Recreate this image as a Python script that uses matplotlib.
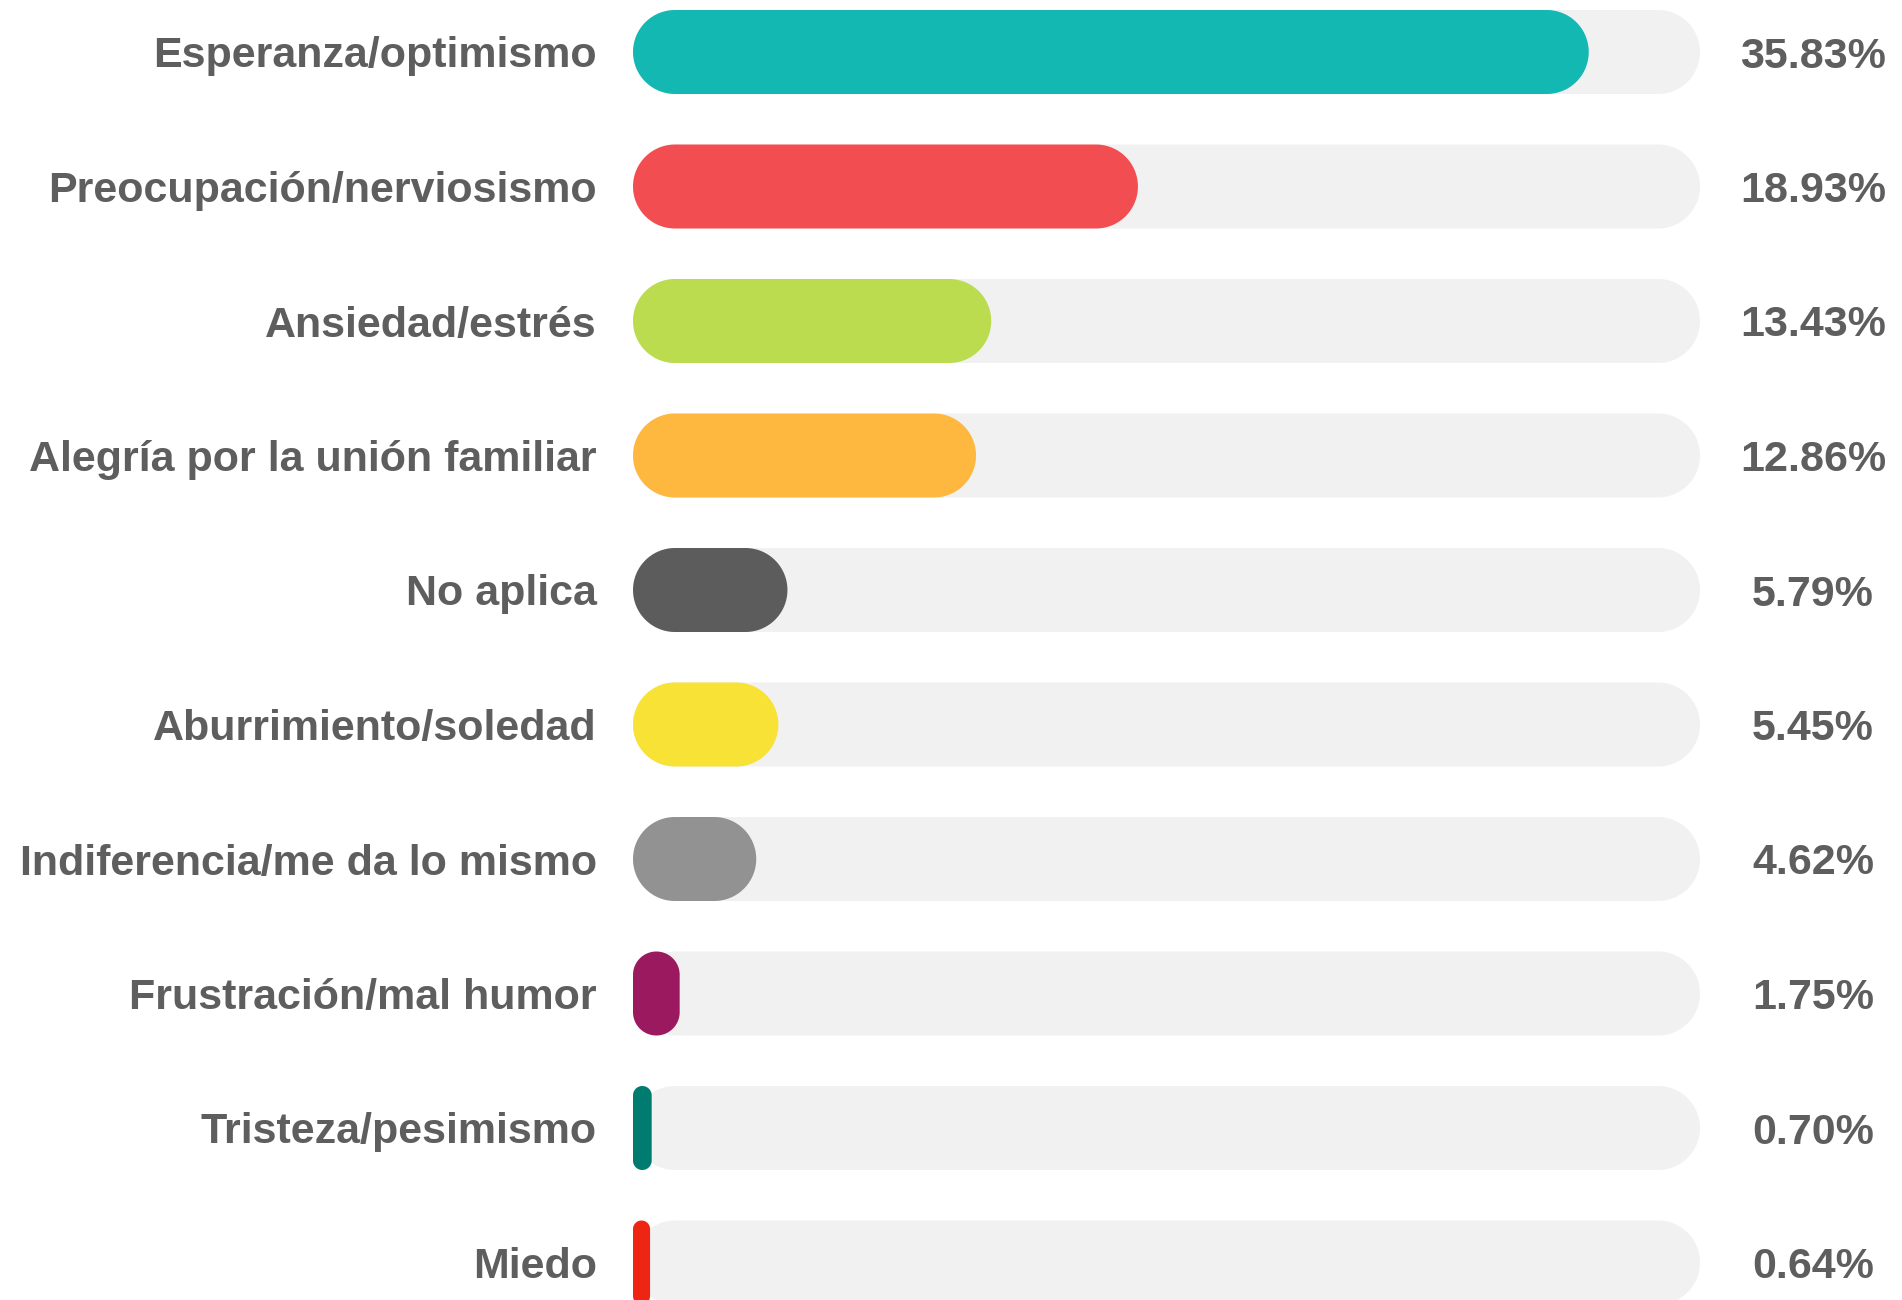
import numpy as np
import matplotlib.pyplot as plt
from matplotlib.patches import Polygon

# data
categories = ['Esperanza/optimismo', 'Preocupación/nerviosismo', 'Ansiedad/estrés',
              'Alegría por la unión familiar', 'No aplica', 'Aburrimiento/soledad',
              'Indiferencia/me da lo mismo', 'Frustración/mal humor',
              'Tristeza/pesimismo', 'Miedo']
values = [35.83, 18.93, 13.43, 12.86, 5.79, 5.45, 4.62, 1.75, 0.70, 0.64]
colors = ['#14b8b3', '#f24e51', '#bcdc4f', '#ffb83f', '#5c5c5c',
          '#f7e235', '#929292', '#9b195e', '#007b70', '#ee2512']
track_max = 40

text_color = '#5e5e5e'
track_color = '#f1f1f1'

# pixel layout helpers
W, H = 1902, 1300
px_per_pct = 26.675
x0_px = 633
row_px = 134.5
first_row_px = 52
bar_px = 84

fig = plt.figure(figsize=(W / 100, H / 100), dpi=100)
ax = fig.add_axes([0, 0, 1, 1])
ax.set_xlim(-x0_px / px_per_pct, (W - x0_px) / px_per_pct)
ax.set_ylim((H - first_row_px) / row_px, -first_row_px / row_px)
ax.axis('off')

bar_h = bar_px / row_px


# rounded bar from x to x + w, corner radius capped at half the width
def pill(x, w, yc, h, color, z):
    r_px = min(bar_px / 2, w * px_per_pct / 2)
    rx = r_px / px_per_pct
    ry = r_px / row_px
    top, bot = yc - h / 2, yc + h / 2
    pts = []
    corners = [(x + w - rx, bot - ry, 0), (x + rx, bot - ry, np.pi / 2),
               (x + rx, top + ry, np.pi), (x + w - rx, top + ry, 3 * np.pi / 2)]
    for cx, cy, a0 in corners:
        t = np.linspace(a0, a0 + np.pi / 2, 30)
        pts.append(np.column_stack([cx + rx * np.cos(t), cy + ry * np.sin(t)]))
    ax.add_patch(Polygon(np.vstack(pts), closed=True,
                         facecolor=color, edgecolor='none', zorder=z))


font = dict(family=['Liberation Sans', 'DejaVu Sans'], fontweight='bold',
            fontsize=31, color=text_color)

for i, (cat, val, col) in enumerate(zip(categories, values, colors)):
    pill(0, track_max, i, bar_h, track_color, 1)
    pill(0, val, i, bar_h, col, 2)
    ax.text(-36 / px_per_pct, i, cat, ha='right', va='center_baseline', **font)
    ax.text(44.24, i, f'{val:.2f}%', ha='center', va='center_baseline', **font)

fig.savefig('out.png', dpi=100, facecolor='white')
